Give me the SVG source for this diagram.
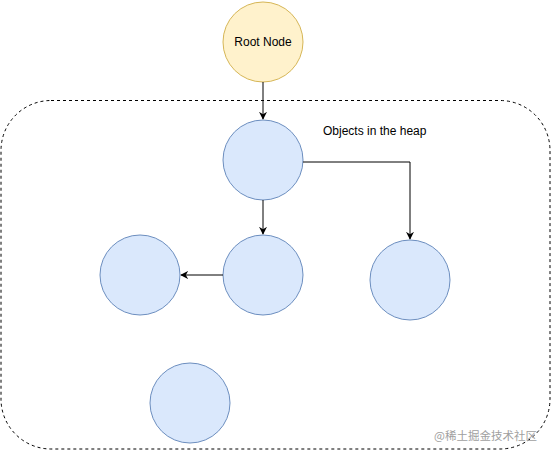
<svg xmlns="http://www.w3.org/2000/svg" width="551" height="451" viewBox="0 0 551 451">
<style>
.heap{fill:#dae8fc;stroke:#6c8ebf;stroke-width:1}
.root{fill:#fff2cc;stroke:#d6b656;stroke-width:1}
.edge{fill:none;stroke:#000;stroke-width:1}
.lbl{font-family:"Liberation Sans",Arial,sans-serif;font-size:12px;fill:#000}
</style>
<defs>
<marker id="arr" viewBox="0 0 10 10" refX="9" refY="5" markerWidth="8" markerHeight="8" markerUnits="userSpaceOnUse" orient="auto">
<path d="M0,0 L10,5 L0,10 L3,5 Z" fill="#000"/>
</marker>
</defs>
<rect width="551" height="451" fill="#fff"/>
<g id="heap-container">
<rect x="1" y="100.5" width="549" height="348.5" rx="50" ry="50" fill="none" stroke="#000" stroke-width="1" stroke-dasharray="3 3"/>
<text class="lbl" x="323" y="135">Objects in the heap</text>
</g>
<g id="root-node">
<circle class="root" cx="263" cy="42" r="40"/>
<text class="lbl" x="263" y="46" text-anchor="middle">Root Node</text>
</g>
<g id="obj-top"><circle class="heap" cx="263" cy="160" r="40"/></g>
<g id="obj-middle"><circle class="heap" cx="263" cy="275" r="40"/></g>
<g id="obj-left"><circle class="heap" cx="140" cy="275" r="40"/></g>
<g id="obj-right"><circle class="heap" cx="410" cy="280" r="40"/></g>
<g id="obj-bottom"><circle class="heap" cx="190" cy="403" r="40"/></g>
<g id="connectors">
<path class="edge" d="M263,82 L263,119" marker-end="url(#arr)"/>
<path class="edge" d="M263,200 L263,234" marker-end="url(#arr)"/>
<path class="edge" d="M223,275 L181,275" marker-end="url(#arr)"/>
<path class="edge" d="M303,162 L410,162 L410,239" marker-end="url(#arr)"/>
</g>
<text x="537" y="440" text-anchor="end" font-family="'Noto Sans CJK SC',sans-serif" font-size="11.5" fill="#a0a0a0">@稀土掘金技术社区</text>
</svg>
